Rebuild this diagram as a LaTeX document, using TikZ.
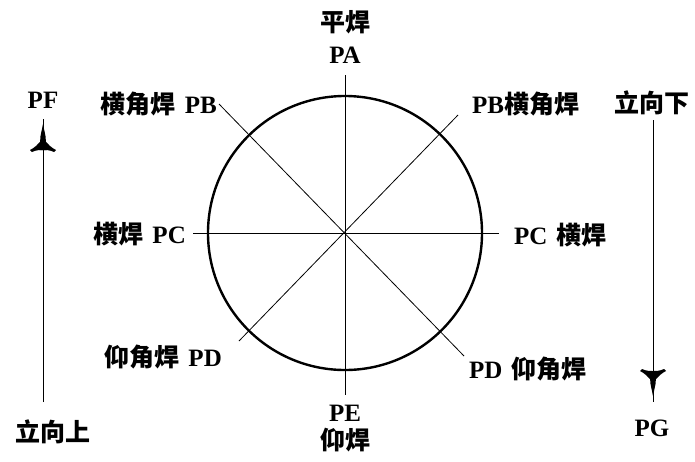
\documentclass[tikz,border=0pt]{standalone}
\usepackage{fontspec}
\setmainfont{Liberation Serif}
\newfontfamily\cjk{Noto Sans CJK SC Bold}
\begin{document}
\begin{tikzpicture}[x=1pt,y=-1pt,
  lbl/.style={inner sep=0pt,font=\fontsize{25}{27}\selectfont\bfseries},
  thin/.style={line width=0.8pt},
  ring/.style={line width=2.4pt}]
\newcommand{\cj}[1]{{\fontsize{25}{27}\selectfont\cjk #1}}
\useasboundingbox[fill=white] (0,0) rectangle (695,461);
% circle and axes
\coordinate (O) at (345,233);
\draw[ring] (O) circle[radius=137];
\coordinate (T) at (345,75);
\coordinate (B) at (345,395);
\coordinate (L) at (193,233);
\coordinate (R) at (499,233);
\coordinate (TL) at (219,104);
\coordinate (BR) at (464,356);
\coordinate (TR) at (458,115);
\coordinate (BL) at (239,341);
\draw[thin] (T) -- (B);
\draw[thin] (L) -- (R);
\draw[thin] (TL) -- (BR);
\draw[thin] (TR) -- (BL);
% labels
\node[lbl] (pinghan) at (345,22) {\cj{平焊}};
\node[lbl] (pa) at (345,55) {PA};
\node[lbl] (pe) at (345,413) {PE};
\node[lbl] (yanghan) at (345,440) {\cj{仰焊}};
\node[lbl,anchor=east] (pbl) at (217,104) {\cj{横角焊}\hspace{9pt}PB};
\node[lbl,anchor=west] (pbr) at (472,104) {PB\cj{横角焊}};
\node[lbl,anchor=east] (pcl) at (186,234) {\cj{横焊}\hspace{9pt}PC};
\node[lbl,anchor=west] (pcr) at (514,235) {PC\hspace{9pt}\cj{横焊}};
\node[lbl,anchor=east] (pdl) at (222,357) {\cj{仰角焊}\hspace{9pt}PD};
\node[lbl,anchor=west] (pdr) at (469,369) {PD\hspace{9pt}\cj{仰角焊}};
\node[lbl] (pf) at (43,100) {PF};
\node[lbl] (up) at (53,432) {\cj{立向上}};
\node[lbl] (down) at (652,103) {\cj{立向下}};
\node[lbl] (pg) at (652,428) {PG};
% left arrow (upward)
\coordinate (lb) at (43,402);
\coordinate (lt) at (43,119);
\draw[thin] (lb) -- (lt);
\fill (43,124) -- (45.5,136) -- (46.5,150) -- (39.5,150) -- (40.5,136) -- cycle;
\fill (43,138) .. controls (38,145) and (34,148) .. (30,150) -- (32,152) .. controls (36,150) and (40,150) .. (43,150)
      .. controls (46,150) and (50,150) .. (54,152) -- (56,150) .. controls (52,148) and (48,145) .. (43,138) -- cycle;
% right arrow (downward)
\coordinate (rt) at (653,120);
\coordinate (rb) at (653,402);
\draw[thin] (rt) -- (rb);
\fill (653,396) -- (655.5,384) -- (656.5,371) -- (649.5,371) -- (650.5,384) -- cycle;
\fill (653,383) .. controls (648,376) and (644,373) .. (640,371) -- (642,369) .. controls (646,371) and (650,371) .. (653,371)
      .. controls (656,371) and (660,371) .. (664,369) -- (666,371) .. controls (662,373) and (658,376) .. (653,383) -- cycle;
\end{tikzpicture}
\end{document}
